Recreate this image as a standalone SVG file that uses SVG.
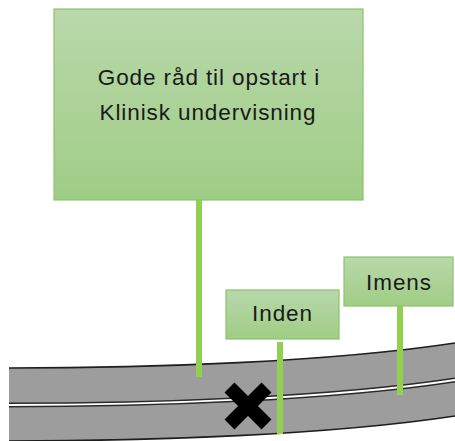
<svg xmlns="http://www.w3.org/2000/svg" width="455" height="441" viewBox="0 0 455 441">
  <defs>
    <linearGradient id="boxGrad" x1="0" y1="0" x2="0" y2="1">
      <stop offset="0" stop-color="#b9d8ab"/>
      <stop offset="1" stop-color="#9fcd85"/>
    </linearGradient>
    <style>
      .box { fill: url(#boxGrad); stroke: #8dc46b; stroke-width: 1.2; }
      .label { font-family: "Liberation Sans", Arial, sans-serif; font-size: 22.5px; fill: #1a1a1a; text-anchor: middle; letter-spacing: 0.9px; }
      .stem { stroke: #92d050; stroke-width: 6; fill: none; }
      .edge { fill: none; stroke: #1e1e1e; stroke-width: 1.6; }
    </style>
  </defs>

  <!-- road -->
  <g id="road">
    <path d="M9,368 C150,368 330,362 455,343 L455,416 C330,435 150,441 9,441 Z" fill="#9d9d9d"/>
    <path class="edge" d="M9,368 C150,368 330,362 455,343"/>
    <path d="M9,405 C150,405 330,399 455,380" fill="none" stroke="#2a2a2a" stroke-width="5"/>
    <path d="M9,405 C150,405 330,399 455,380" fill="none" stroke="#ffffff" stroke-width="2"/>
    <path class="edge" d="M9,441 C150,441 330,435 455,416"/>
  </g>

  <!-- connectors -->
  <g id="connectors">
    <line class="stem" x1="199" y1="200" x2="199" y2="377"/>
    <line class="stem" x1="280" y1="342" x2="280" y2="434"/>
    <line class="stem" x1="400" y1="306" x2="400" y2="395"/>
  </g>

  <g id="marker-x">
    <path d="M229.5,387.5 L266.5,424.5 M266.5,387.5 L229.5,424.5" stroke="#000000" stroke-width="14" fill="none"/>
  </g>

  <g id="node-main">
    <rect class="box" x="54" y="9" width="309" height="191"/>
    <text class="label" x="209" y="85">Gode råd til opstart i</text>
    <text class="label" x="208" y="120">Klinisk undervisning</text>
  </g>

  <g id="node-inden">
    <rect class="box" x="226" y="290" width="113" height="49"/>
    <text class="label" x="282.5" y="321">Inden</text>
  </g>

  <g id="node-imens">
    <rect class="box" x="344" y="257" width="109" height="49"/>
    <text class="label" x="399" y="290">Imens</text>
  </g>
</svg>
